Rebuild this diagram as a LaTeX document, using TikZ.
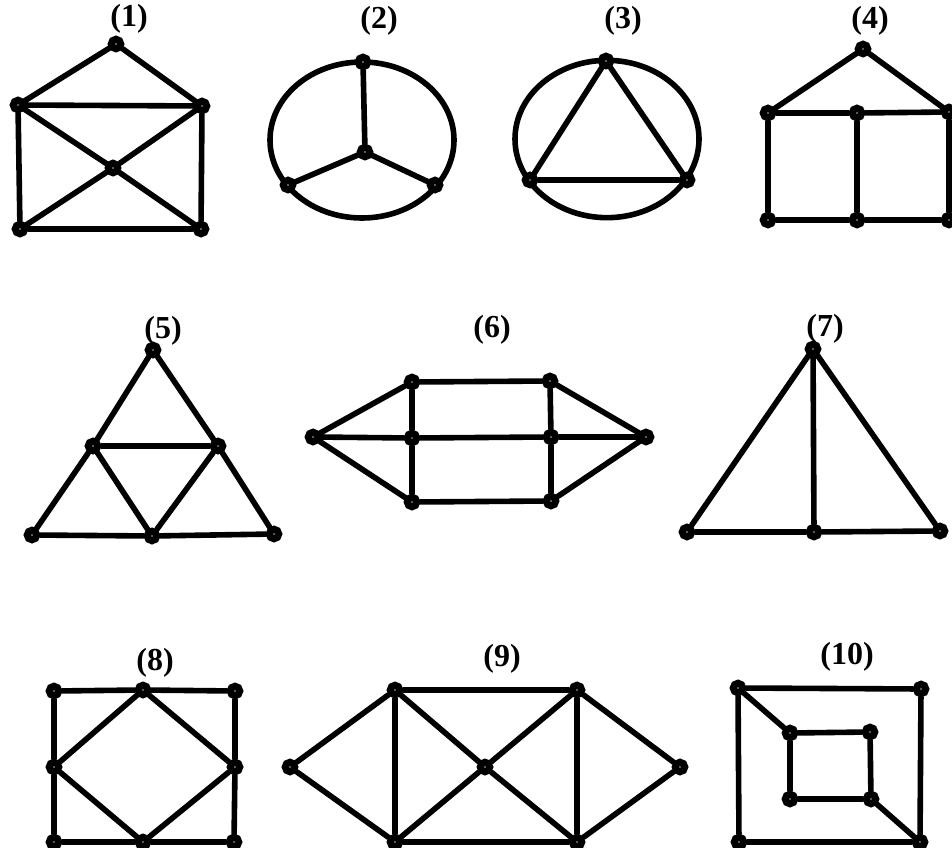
\documentclass[tikz,border=0pt]{standalone}
\usepackage{fontspec}
\setmainfont{Liberation Serif}
\begin{document}
\begin{tikzpicture}[x=0.75pt,y=-0.75pt,
  vtx/.style={circle,draw=black,fill=white,line width=5.4pt,minimum size=7pt,inner sep=0pt},
  edge/.style={line width=4.2pt,line cap=round,draw=black},
  ring/.style={line width=4.2pt,draw=black},
  lbl/.style={font=\fontsize{24}{28}\selectfont\bfseries,inner sep=0pt}]
\fill[white] (0,0) rectangle (952,848);
\clip (0,0) rectangle (952,848);
% ---------- (1)
\node[lbl] (l1) at (129,19) {(1)};
\node[vtx] (a1) at (116,44) {};
\node[vtx] (a2) at (18,105) {};
\node[vtx] (a3) at (202,106) {};
\node[vtx] (a4) at (113,168) {};
\node[vtx] (a5) at (20,229) {};
\node[vtx] (a6) at (201,229) {};
\draw[edge] (a1)--(a2) (a1)--(a3) (a2)--(a3) (a2)--(a5) (a3)--(a6) (a5)--(a6)
  (a2)--(a4) (a4)--(a6) (a3)--(a4) (a4)--(a5);
% ---------- (2)
\node[lbl] (l2) at (379,21) {(2)};
\draw[ring] (362,140) ellipse [x radius=69pt,y radius=58.5pt];
\node[vtx] (b1) at (363,62) {};
\node[vtx] (b2) at (365,152) {};
\node[vtx] (b3) at (288,185) {};
\node[vtx] (b4) at (435,185) {};
\draw[edge] (b1)--(b2) (b2)--(b3) (b2)--(b4);
% ---------- (3)
\node[lbl] (l3) at (623,21) {(3)};
\draw[ring] (607,139) ellipse [x radius=69pt,y radius=59pt];
\node[vtx] (c1) at (606,61) {};
\node[vtx] (c2) at (530,180) {};
\node[vtx] (c3) at (687,180) {};
\draw[edge] (c1)--(c2) (c2)--(c3) (c3)--(c1);
% ---------- (4)
\node[lbl] (l4) at (870,21) {(4)};
\node[vtx] (d1) at (863,49) {};
\node[vtx] (d2) at (768,113) {};
\node[vtx] (d3) at (857,113) {};
\node[vtx] (d4) at (949,112) {};
\node[vtx] (d5) at (768,220) {};
\node[vtx] (d6) at (857,220) {};
\node[vtx] (d7) at (949,220) {};
\draw[edge] (d1)--(d2) (d1)--(d4) (d2)--(d3) (d3)--(d4) (d2)--(d5) (d3)--(d6) (d4)--(d7)
  (d5)--(d6) (d6)--(d7);
% ---------- (5)
\node[lbl] (l5) at (163,331) {(5)};
\node[vtx] (e1) at (153,350) {};
\node[vtx] (e2) at (93,446) {};
\node[vtx] (e3) at (218,446) {};
\node[vtx] (e4) at (32,535) {};
\node[vtx] (e5) at (152,536) {};
\node[vtx] (e6) at (274,534) {};
\draw[edge] (e1)--(e2) (e1)--(e3) (e2)--(e3) (e2)--(e4) (e3)--(e6) (e4)--(e5) (e5)--(e6)
  (e2)--(e5) (e3)--(e5);
% ---------- (6)
\node[lbl] (l6) at (492,330) {(6)};
\node[vtx] (f1) at (313,437) {};
\node[vtx] (f2) at (412,382) {};
\node[vtx] (f3) at (412,438) {};
\node[vtx] (f4) at (412,502) {};
\node[vtx] (f5) at (550,381) {};
\node[vtx] (f6) at (551,437) {};
\node[vtx] (f7) at (551,501) {};
\node[vtx] (f8) at (646,437) {};
\draw[edge] (f1)--(f2) (f1)--(f3) (f1)--(f4) (f2)--(f3) (f3)--(f4) (f2)--(f5) (f3)--(f6)
  (f4)--(f7) (f5)--(f6) (f6)--(f7) (f5)--(f8) (f6)--(f8) (f7)--(f8);
% ---------- (7)
\node[lbl] (l7) at (825,329) {(7)};
\node[vtx] (g1) at (813,349) {};
\node[vtx] (g2) at (687,532) {};
\node[vtx] (g3) at (814,532) {};
\node[vtx] (g4) at (940,531) {};
\draw[edge] (g1)--(g2) (g1)--(g3) (g1)--(g4) (g2)--(g3) (g3)--(g4);
% ---------- (8)
\node[lbl] (l8) at (155,663) {(8)};
\node[vtx] (h1) at (54,691) {};
\node[vtx] (h2) at (143,690) {};
\node[vtx] (h3) at (235,691) {};
\node[vtx] (h4) at (54,767) {};
\node[vtx] (h5) at (235,767) {};
\node[vtx] (h6) at (54,842) {};
\node[vtx] (h7) at (143,842) {};
\node[vtx] (h8) at (234,842) {};
\draw[edge] (h1)--(h2) (h2)--(h3) (h1)--(h4) (h4)--(h6) (h3)--(h5) (h5)--(h8) (h6)--(h7) (h7)--(h8)
  (h2)--(h4) (h2)--(h5) (h4)--(h7) (h5)--(h7);
% ---------- (9)
\node[lbl] (l9) at (502,659) {(9)};
\node[vtx] (i1) at (395,690) {};
\node[vtx] (i2) at (577,690) {};
\node[vtx] (i3) at (290,767) {};
\node[vtx] (i4) at (485,767) {};
\node[vtx] (i5) at (680,767) {};
\node[vtx] (i6) at (395,842) {};
\node[vtx] (i7) at (577,842) {};
\draw[edge] (i1)--(i2) (i6)--(i7) (i1)--(i6) (i2)--(i7) (i3)--(i1) (i3)--(i6) (i5)--(i2) (i5)--(i7)
  (i1)--(i4) (i4)--(i7) (i2)--(i4) (i4)--(i6);
% ---------- (10)
\node[lbl] (l10) at (847,657) {(10)};
\node[vtx] (j1) at (738,688) {};
\node[vtx] (j2) at (921,689) {};
\node[vtx] (j3) at (739,842) {};
\node[vtx] (j4) at (920,842) {};
\node[vtx] (j5) at (790,733) {};
\node[vtx] (j6) at (870,732) {};
\node[vtx] (j7) at (790,799) {};
\node[vtx] (j8) at (871,799) {};
\draw[edge] (j1)--(j2) (j2)--(j4) (j4)--(j3) (j3)--(j1) (j5)--(j6) (j6)--(j8) (j8)--(j7) (j7)--(j5)
  (j1)--(j5) (j8)--(j4);
\end{tikzpicture}
\end{document}
